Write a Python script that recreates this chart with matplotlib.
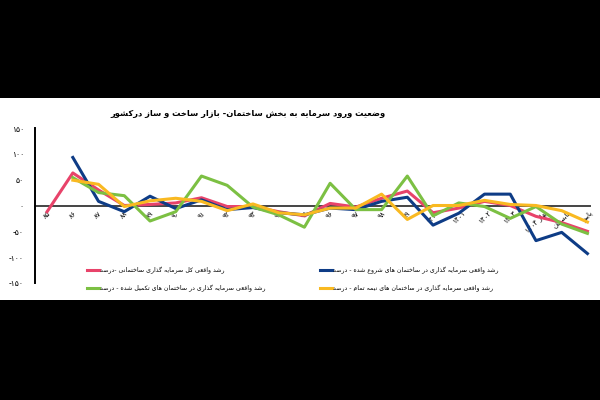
import re
import numpy as np
import matplotlib
matplotlib.use("Agg")
import matplotlib.pyplot as plt
from matplotlib.patches import Rectangle

nan = np.nan

# داده ها (درصد)
labels = ["85", "86", "87", "88", "89", "90", "91", "92", "93", "94", "95",
          "96", "97", "98", "99", "1400", "1401", "1402", "1403",
          "بهار 1404", "تابستان", "پاییز"]
total = [-12, 63, 30, 0, 2, 5, 15, -2, -2, -12, -20, 4, -3, 14, 28, -14, -5, 8, 0, -21, -33, -50]
started = [nan, 93, 8, -12, 18, -6, 11, -8, -4, -14, -18, -5, -8, 8, 16, -38, -15, 22, 22, -68, -52, -93]
completed = [nan, 54, 25, 19, -30, -12, 57, 39, -3, -18, -42, 43, -8, -8, 57, -20, 5, -2, -25, -2, -36, -54]
unfinished = [nan, 49, 41, -2, 9, 14, 8, -10, 3, -14, -18, -5, -5, 22, -27, 0, 0, 10, 2, 0, -10, -32]
yticks = [-150, -100, -50, 0, 50, 100, 150]

title = "وضعیت ورود سرمایه به بخش ساختمان- بازار ساخت و ساز درکشور"
name_total = "رشد واقعی کل سرمایه گذاری ساختمانی -درصد"
name_started = "رشد واقعی سرمایه گذاری در ساختمان های شروع شده - درصد"
name_completed = "رشد واقعی سرمایه گذاری در ساختمان های تکمیل شده - درصد"
name_unfinished = "رشد واقعی سرمایه گذاری در ساختمان های نیمه تمام - درصد"

# شکل حروف (تنها، پایانی، آغازی، میانی)
FORMS = {
    "ا": ("\uFE8D", "\uFE8E", None, None),
    "آ": ("\uFE81", "\uFE82", None, None),
    "ب": ("\uFE8F", "\uFE90", "\uFE91", "\uFE92"),
    "پ": ("\uFB56", "\uFB57", "\uFB58", "\uFB59"),
    "ت": ("\uFE95", "\uFE96", "\uFE97", "\uFE98"),
    "ث": ("\uFE99", "\uFE9A", "\uFE9B", "\uFE9C"),
    "ج": ("\uFE9D", "\uFE9E", "\uFE9F", "\uFEA0"),
    "چ": ("\uFB7A", "\uFB7B", "\uFB7C", "\uFB7D"),
    "ح": ("\uFEA1", "\uFEA2", "\uFEA3", "\uFEA4"),
    "خ": ("\uFEA5", "\uFEA6", "\uFEA7", "\uFEA8"),
    "د": ("\uFEA9", "\uFEAA", None, None),
    "ذ": ("\uFEAB", "\uFEAC", None, None),
    "ر": ("\uFEAD", "\uFEAE", None, None),
    "ز": ("\uFEAF", "\uFEB0", None, None),
    "ژ": ("\uFB8A", "\uFB8B", None, None),
    "س": ("\uFEB1", "\uFEB2", "\uFEB3", "\uFEB4"),
    "ش": ("\uFEB5", "\uFEB6", "\uFEB7", "\uFEB8"),
    "ص": ("\uFEB9", "\uFEBA", "\uFEBB", "\uFEBC"),
    "ض": ("\uFEBD", "\uFEBE", "\uFEBF", "\uFEC0"),
    "ط": ("\uFEC1", "\uFEC2", "\uFEC3", "\uFEC4"),
    "ظ": ("\uFEC5", "\uFEC6", "\uFEC7", "\uFEC8"),
    "ع": ("\uFEC9", "\uFECA", "\uFECB", "\uFECC"),
    "غ": ("\uFECD", "\uFECE", "\uFECF", "\uFED0"),
    "ف": ("\uFED1", "\uFED2", "\uFED3", "\uFED4"),
    "ق": ("\uFED5", "\uFED6", "\uFED7", "\uFED8"),
    "ک": ("\uFB8E", "\uFB8F", "\uFB90", "\uFB91"),
    "گ": ("\uFB92", "\uFB93", "\uFB94", "\uFB95"),
    "ل": ("\uFEDD", "\uFEDE", "\uFEDF", "\uFEE0"),
    "م": ("\uFEE1", "\uFEE2", "\uFEE3", "\uFEE4"),
    "ن": ("\uFEE5", "\uFEE6", "\uFEE7", "\uFEE8"),
    "و": ("\uFEED", "\uFEEE", None, None),
    "ه": ("\uFEE9", "\uFEEA", "\uFEEB", "\uFEEC"),
    "ی": ("\uFBFC", "\uFBFD", "\uFBFE", "\uFBFF"),
}
FA_DIGITS = str.maketrans("0123456789", "۰۱۲۳۴۵۶۷۸۹")


def fa(text):
    # شکل دادن حروف و راست به چپ کردن متن
    text = text.translate(FA_DIGITS)
    out = []
    for i, c in enumerate(text):
        if c not in FORMS:
            out.append(c)
            continue
        f = FORMS[c]
        prev = text[i - 1] if i > 0 else ""
        nxt = text[i + 1] if i + 1 < len(text) else ""
        jp = prev in FORMS and FORMS[prev][2] is not None
        jn = f[2] is not None and nxt in FORMS
        if jp and jn:
            out.append(f[3])
        elif jp:
            out.append(f[1])
        elif jn:
            out.append(f[2])
        else:
            out.append(f[0])
    vis = "".join(out)[::-1]
    vis = re.sub(r"[\u06F0-\u06F9]+", lambda m: m.group(0)[::-1], vis)
    return vis


plt.rcParams["font.family"] = ["DejaVu Sans"]

fig = plt.figure(figsize=(6, 4), dpi=100, facecolor="black")
fig.patches.append(Rectangle((0, 100 / 400), 1, 202 / 400, transform=fig.transFigure,
                             facecolor="white", edgecolor="none", zorder=-1))

ax = fig.add_axes([35 / 600, 1 - 283 / 400, 555 / 600, 155 / 400])
ax.patch.set_alpha(0)
x = np.arange(len(labels))

l1, = ax.plot(x, total, color="#E8436A", lw=2.2)
l2, = ax.plot(x, started, color="#0E3C86", lw=2.2)
l3, = ax.plot(x, completed, color="#7CC043", lw=2.2)
l4, = ax.plot(x, unfinished, color="#F9B921", lw=2.2)

ax.set_xlim(-0.47, 21.1)
ax.set_ylim(-150, 150)
ax.spines["top"].set_visible(False)
ax.spines["right"].set_visible(False)
ax.spines["bottom"].set_position(("data", 0))
ax.spines["bottom"].set_color("#444444")
ax.spines["bottom"].set_linewidth(1.4)
ax.spines["bottom"].set_zorder(0.5)
ax.spines["left"].set_linewidth(1.4)

ax.set_xticks(x)
ax.set_xticklabels([fa(l) for l in labels], rotation=45, ha="center", va="top", fontsize=5)
ax.set_yticks(yticks)
ax.set_yticklabels([str(v).translate(FA_DIGITS) for v in yticks], fontsize=5.5)
ax.tick_params(length=0)
ax.tick_params(axis="y", pad=8)
ax.tick_params(axis="x", pad=3)

fig.text(0.413, 1 - 114 / 400, fa(title), ha="center", va="center",
         fontsize=6, fontweight="bold")

fig.legend([l1, l3, l2, l4],
           [fa(name_total), fa(name_completed), fa(name_started), fa(name_unfinished)],
           ncol=2, frameon=False, loc="upper left",
           bbox_to_anchor=(81 / 600, 1 - 261 / 400),
           fontsize=4.5, handlelength=1.9, handletextpad=0.3, columnspacing=8.6,
           labelspacing=1.8)

fig.savefig("out.png", dpi=100, facecolor=fig.get_facecolor())
